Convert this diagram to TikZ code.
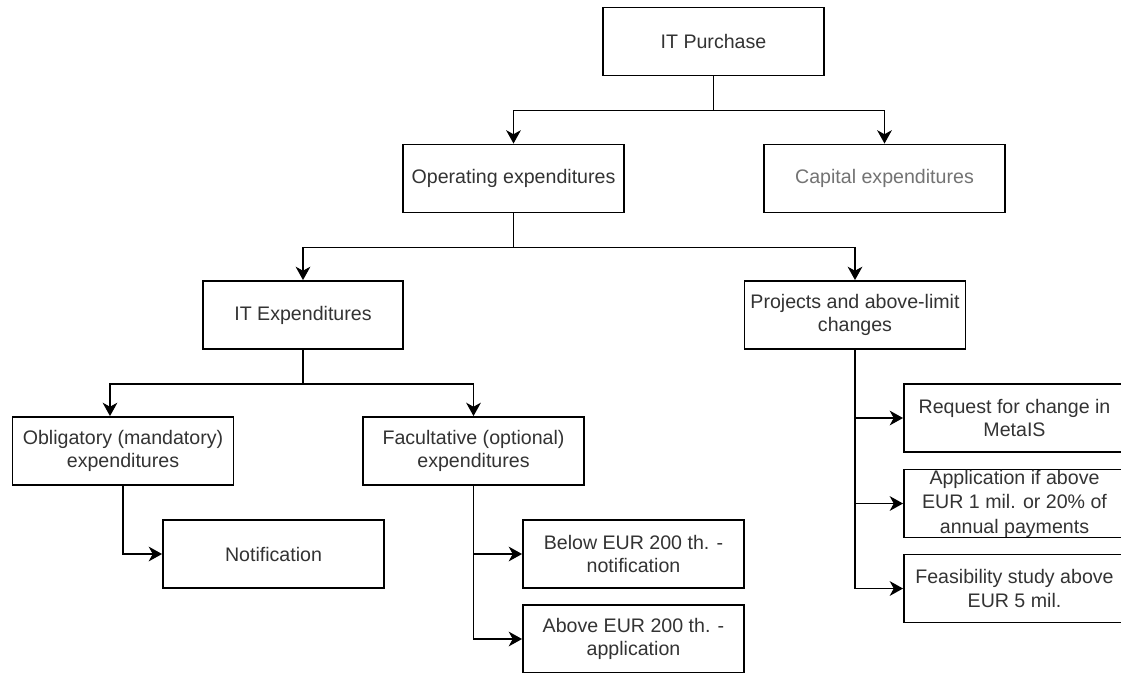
\documentclass[tikz,border=0pt]{standalone}
\usepackage{fontspec}
\setmainfont{Liberation Sans}
\usetikzlibrary{arrows.meta}

\begin{document}
\begin{tikzpicture}[x=0.75pt, y=-0.75pt,
                box/.style={draw, line width=1.4pt, minimum width=165.75pt, minimum height=51pt,
                    inner xsep=2pt, inner ysep=0pt, align=center, text=black!80,
                    font=\fontsize{14.7}{17.6}\selectfont},
                link/.style={line width=1.4pt, -{Stealth[length=10pt, width=11pt, inset=3pt]}}]

                \useasboundingbox (0,0) rectangle (1121,672);
                \clip (0,0) rectangle (1121,672);
                \fill[white] (0,0) rectangle (1121,672);

                \node[box] (itp) at (713.5,41.5) {IT Purchase};
                \node[box] (opex) at (513.5,178.5) {Operating expenditures};
                \node[box, minimum width=180.75pt, text=black!55] (capex) at (884.5,178.5) {Capital expenditures};

                \node[box, minimum width=150pt] (itexp) at (303,315) {IT Expenditures};
                \node[box] (proj) at (855,315) {Projects and above-limit\\changes};

                \node[box] (oblig) at (123,451) {Obligatory (mandatory)\\expenditures};
                \node[box] (facul) at (473.5,451) {Facultative (optional)\\expenditures};

                \node[box] (notif) at (273.5,554) {Notification};
                \node[box] (below) at (633.5,554) {Below EUR 200 th. -\\notification};
                \node[box] (above) at (633.5,639) {Above EUR 200 th. -\\application};

                \node[box] (req) at (1014.5,418) {Request for change in\\MetaIS};
                \node[box, font=\fontsize{14.7}{18.4}\selectfont] (appl) at (1014.5,503.5) {Application if above\\EUR 1 mil. or 20\% of\\annual payments};
                \node[box] (feas) at (1014.5,588.5) {Feasibility study above\\EUR 5 mil.};

                \draw[link] (itp.south) -- ++(0,34) -| (opex.north);
                \draw[link] (itp.south) -- ++(0,34) -| (capex.north);
                \draw[link] (opex.south) -- ++(0,34) -| (itexp.north);
                \draw[link] (opex.south) -- ++(0,34) -| (proj.north);
                \draw[link] (itexp.south) -- ++(0,34) -| ([xshift=-9.75pt]oblig.north);
                \draw[link] (itexp.south) -- ++(0,34) -| (facul.north);

                \draw[link] (oblig.south) |- (notif.west);
                \draw[link] (facul.south) |- (below.west);
                \draw[link] (facul.south) |- (above.west);

                \draw[link] (proj.south) |- (req.west);
                \draw[link] (proj.south) |- (appl.west);
                \draw[link] (proj.south) |- (feas.west);

            \end{tikzpicture}
\end{document}
